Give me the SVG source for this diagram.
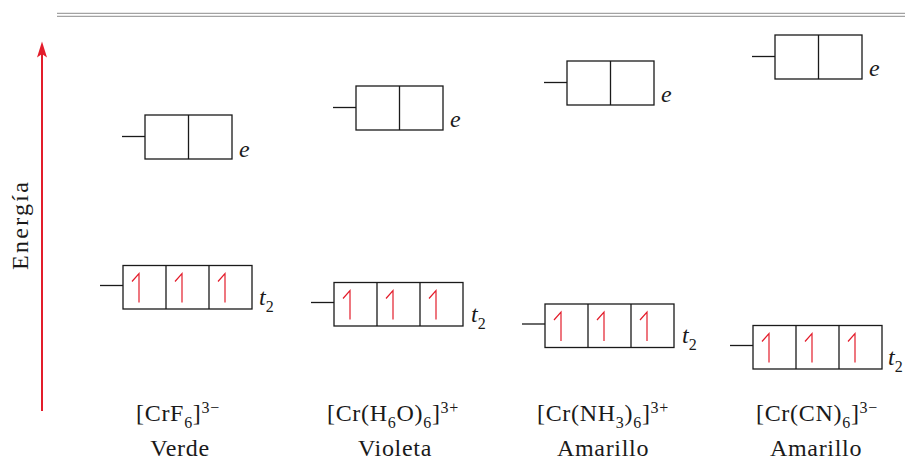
<svg xmlns="http://www.w3.org/2000/svg" width="905" height="461" viewBox="0 0 905 461">
<style>
.box{fill:none;stroke:#1a1a1a;stroke-width:1.3}
.stub{stroke:#1a1a1a;stroke-width:1.3}
.up{fill:none;stroke:#e31d2b;stroke-width:1.2;stroke-linejoin:miter}
.lbl{font-family:"Liberation Serif","Times New Roman",serif;font-size:24px;fill:#1a1a1a;letter-spacing:0.7px;text-anchor:middle}
.it{font-family:"Liberation Serif","Times New Roman",serif;font-size:24px;font-style:italic;fill:#1a1a1a}
.s{font-size:16px}
.n{font-style:normal}
.rule{stroke:#a3a3a3;stroke-width:1.3}
</style>
<defs>
<path id="hu" class="up" d="M16,37 V8 L9,16"/>
<g id="eb">
<line class="stub" x1="-23" y1="21.5" x2="0" y2="21.5"/>
<rect class="box" x="0" y="0" width="87" height="44"/>
<line class="stub" x1="43.5" y1="0" x2="43.5" y2="44"/>
</g>
<g id="tb">
<line class="stub" x1="-23" y1="20" x2="0" y2="20"/>
<rect class="box" x="0" y="0" width="129" height="43.5"/>
<line class="stub" x1="43" y1="0" x2="43" y2="43.5"/>
<line class="stub" x1="86" y1="0" x2="86" y2="43.5"/>
<use href="#hu" x="0" y="0"/>
<use href="#hu" x="43" y="0"/>
<use href="#hu" x="86" y="0"/>
</g>
</defs>
<g id="rule">
<line class="rule" x1="57" y1="13.3" x2="905" y2="13.3"/>
<line class="rule" x1="57" y1="16.4" x2="905" y2="16.4"/>
</g>
<g id="connectors">
<line x1="42" y1="411" x2="42" y2="52" stroke="#e31d2b" stroke-width="2"/>
<polygon points="42,41.5 47,57.5 42,54 37,57.5" fill="#e31d2b"/>
</g>
<g id="axis-label">
<text class="lbl" transform="translate(28,226) rotate(-90)" textLength="88" lengthAdjust="spacing" style="letter-spacing:0">Energía</text>
</g>
<g id="crf6">
<use href="#eb" x="145" y="115"/>
<text class="it" x="239" y="157">e</text>
<use href="#tb" x="123" y="265.5"/>
<text class="it" x="259" y="305">t<tspan class="s n" dy="7">2</tspan></text>
<text class="lbl" x="178" y="421">[CrF<tspan class="s" dy="7">6</tspan><tspan dy="-7">]</tspan><tspan class="s" dy="-8">3−</tspan></text>
<text class="lbl" x="180" y="456">Verde</text>
</g>
<g id="crh6o">
<use href="#eb" x="356" y="86"/>
<text class="it" x="450" y="127">e</text>
<use href="#tb" x="334" y="282.5"/>
<text class="it" x="471" y="322">t<tspan class="s n" dy="7">2</tspan></text>
<text class="lbl" x="393" y="421">[Cr(H<tspan class="s" dy="7">6</tspan><tspan dy="-7">O)</tspan><tspan class="s" dy="7">6</tspan><tspan dy="-7">]</tspan><tspan class="s" dy="-8">3+</tspan></text>
<text class="lbl" x="395" y="456">Violeta</text>
</g>
<g id="crnh3">
<use href="#eb" x="567" y="61"/>
<text class="it" x="661" y="102">e</text>
<use href="#tb" x="545" y="304"/>
<text class="it" x="682" y="343">t<tspan class="s n" dy="7">2</tspan></text>
<text class="lbl" x="603" y="421">[Cr(NH<tspan class="s" dy="7">3</tspan><tspan dy="-7">)</tspan><tspan class="s" dy="7">6</tspan><tspan dy="-7">]</tspan><tspan class="s" dy="-8">3+</tspan></text>
<text class="lbl" x="603" y="456">Amarillo</text>
</g>
<g id="crcn">
<use href="#eb" x="775" y="35"/>
<text class="it" x="869" y="76">e</text>
<use href="#tb" x="753" y="325.5"/>
<text class="it" x="888" y="365">t<tspan class="s n" dy="7">2</tspan></text>
<text class="lbl" x="817" y="421">[Cr(CN)<tspan class="s" dy="7">6</tspan><tspan dy="-7">]</tspan><tspan class="s" dy="-8">3−</tspan></text>
<text class="lbl" x="816" y="456">Amarillo</text>
</g>
</svg>
